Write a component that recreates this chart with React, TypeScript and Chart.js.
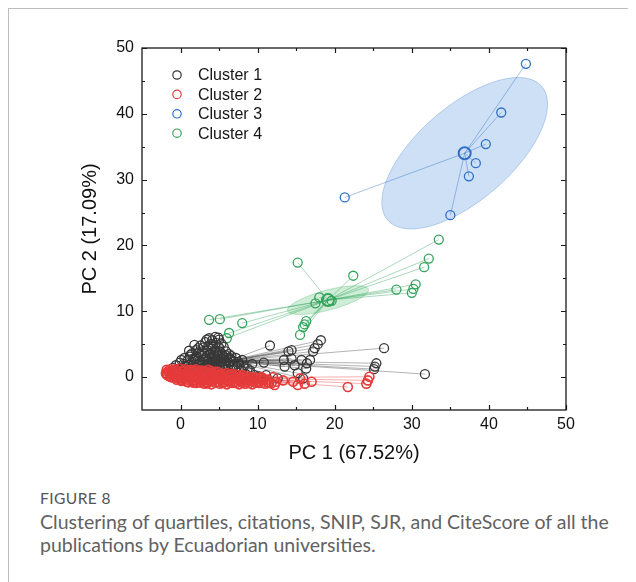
import React, { useEffect, useRef } from "react";
import { Chart, registerables } from "chart.js";

Chart.register(...registerables);

type Pt = [number, number];

// PCA scores per cluster: [PC 1, PC 2]
const cluster1: Pt[] = [
  // dense core
  [3.7, 5.9], [4.5, 6.1], [4.1, 5.6], [5.0, 5.7], [3.4, 5.7], [4.9, 6.0],
  [3.2, 5.3], [3.9, 5.0], [4.6, 5.2], [5.3, 5.1], [2.6, 4.8], [1.8, 4.9], [5.6, 4.6], [4.2, 4.6], [3.0, 4.5],
  [2.3, 4.4], [3.6, 4.7], [5.0, 4.5], [4.0, 4.3],
  [1.1, 4.0], [2.0, 4.1], [2.8, 3.9], [3.5, 4.1], [4.4, 4.0], [5.1, 3.9], [5.9, 3.9], [6.3, 3.5], [1.5, 3.6], [3.9, 3.5], [4.8, 3.4],
  [1.3, 3.4], [2.4, 3.7], [3.1, 3.6], [4.6, 3.7], [5.4, 3.5],
  [0.5, 2.9], [1.2, 3.1], [2.1, 3.2], [2.7, 3.4], [3.3, 3.0], [4.1, 2.9], [4.9, 2.8], [5.6, 3.0], [6.4, 2.9],
  [0.1, 2.6], [1.9, 2.9], [3.0, 2.7], [4.3, 3.2], [5.9, 3.3], [6.6, 3.2], [7.2, 2.9],
  [0.9, 2.5], [1.7, 2.6], [2.5, 2.5], [3.6, 2.6], [4.5, 2.4], [5.3, 2.3], [6.0, 2.5], [6.9, 2.4],
  [-0.1, 2.2], [-0.6, 1.8], [0.4, 2.0], [1.0, 1.9], [1.6, 1.8], [2.3, 2.0], [2.9, 1.9], [3.5, 2.0], [4.1, 1.8],
  [4.8, 1.9], [5.5, 1.7], [6.2, 1.8], [6.8, 1.8], [7.3, 1.6],
  [0.6, 1.7], [2.6, 1.7], [3.9, 2.3], [5.7, 2.0], [7.6, 2.0], [8.2, 1.6], [9.0, 1.0], [8.0, 2.6], [9.3, 2.0],
  [-1.0, 1.4], [0.2, 1.4], [0.8, 1.3], [1.4, 1.2], [2.0, 1.4], [2.7, 1.3], [3.2, 1.4], [3.9, 1.2], [4.5, 1.3],
  [5.1, 1.1], [5.8, 1.2], [6.5, 1.1], [7.9, 1.0], [-0.4, 1.2],
  [-0.8, 0.8], [-0.2, 0.7], [0.5, 0.6], [1.2, 0.7], [1.9, 0.5], [2.6, 0.6], [3.4, 0.7], [4.2, 0.5], [5.0, 0.6],
  [5.7, 0.4], [6.4, 0.6], [7.1, 0.5], [7.8, 0.3], [8.4, 0.5],
  [0.9, 0.1], [2.3, 0.0], [3.7, 0.1], [5.3, -0.1], [6.8, 0.0], [8.9, -0.1], [10.2, 0.1],
  // spread toward higher PC 1
  [11.6, 4.8], [7.5, 2.3], [8.7, 1.3], [9.6, 0.3], [10.8, 2.2], [11.1, 0.3], [13.5, 1.6], [13.4, 2.6],
  [14.0, 3.9], [14.4, 4.1], [14.8, 1.8], [15.2, 0.6], [15.7, 2.6], [16.3, 1.3], [16.8, 2.6], [17.2, 3.9],
  [17.4, 4.4], [17.8, 5.0], [18.2, 5.6], [16.4, 2.1], [14.4, 2.8], [15.9, -0.2], [12.6, -0.2],
  [26.4, 4.4], [25.4, 2.1], [25.2, 1.6], [25.1, 1.2], [31.7, 0.45],
];

const cluster2: Pt[] = [
  [-1.8, 1.1], [-1.3, 1.2], [-0.7, 1.2], [-0.1, 1.3], [0.6, 1.2], [1.3, 1.1], [2.0, 1.2], [2.8, 1.0], [3.6, 1.1],
  [-1.6, 0.9], [-1.0, 1.0], [-0.4, 0.95], [0.3, 1.0], [1.0, 0.9], [1.7, 1.0], [2.4, 0.9], [3.2, 0.85], [4.0, 0.9], [4.8, 0.8],
  [-1.9, 0.6], [-1.5, 0.7], [-1.0, 0.8], [-0.4, 0.7], [0.2, 0.8], [0.9, 0.7], [1.6, 0.8], [2.3, 0.6], [3.0, 0.7],
  [3.8, 0.6], [4.5, 0.7], [5.2, 0.5], [6.0, 0.6], [6.7, 0.5],
  [-1.8, 0.4], [-1.3, 0.5], [-0.7, 0.45], [-0.1, 0.5], [0.5, 0.4], [1.2, 0.5], [1.9, 0.45], [2.6, 0.4], [3.4, 0.45],
  [4.1, 0.5], [4.9, 0.4], [5.6, 0.45], [6.4, 0.4], [7.2, 0.4], [8.0, 0.35],
  [-1.6, 0.2], [-1.1, 0.3], [-0.5, 0.2], [0.1, 0.3], [0.7, 0.1], [1.4, 0.2], [2.0, 0.3], [2.7, 0.1], [3.3, 0.2],
  [4.0, 0.3], [4.7, 0.1], [5.4, 0.2], [6.1, 0.1], [6.9, 0.2], [7.6, 0.1], [8.3, 0.2], [9.1, 0.0],
  [-1.3, 0.0], [-0.6, 0.05], [0.0, 0.0], [0.6, -0.05], [1.2, 0.0], [1.8, 0.05], [2.4, -0.05], [3.1, 0.0], [3.8, 0.05],
  [4.5, -0.05], [5.2, 0.0], [5.9, -0.05], [6.6, 0.0], [7.3, -0.05], [8.0, 0.0], [8.8, 0.05], [9.7, -0.05], [10.5, 0.0],
  [-0.9, -0.1], [-0.3, -0.2], [0.4, -0.3], [1.0, -0.2], [1.7, -0.1], [2.4, -0.3], [3.0, -0.2], [3.7, -0.3],
  [4.4, -0.2], [5.0, -0.3], [5.7, -0.2], [6.4, -0.3], [7.2, -0.2], [7.9, -0.3], [8.7, -0.2], [9.5, -0.3], [10.3, -0.2],
  [-0.5, -0.4], [0.2, -0.45], [0.9, -0.4], [1.6, -0.45], [2.3, -0.4], [3.0, -0.45], [3.7, -0.5], [4.4, -0.4], [5.2, -0.45],
  [6.0, -0.5], [6.7, -0.4], [7.5, -0.45], [8.2, -0.4], [9.0, -0.45], [9.8, -0.4], [10.6, -0.45], [11.3, -0.4],
  [0.1, -0.6], [0.8, -0.7], [1.5, -0.6], [2.2, -0.7], [2.9, -0.6], [3.5, -0.8], [4.2, -0.6], [4.9, -0.7],
  [5.6, -0.8], [6.3, -0.6], [7.0, -0.7], [7.7, -0.6], [8.5, -0.7], [9.2, -0.6], [10.0, -0.7], [10.7, -0.5], [11.4, -0.8],
  [1.0, -0.8], [1.7, -0.85], [2.6, -0.85], [3.5, -0.95], [4.5, -0.85], [5.5, -0.9], [6.4, -0.85], [7.2, -0.9],
  [8.0, -0.85], [8.9, -0.9], [9.7, -0.85], [10.5, -0.9], [11.8, -0.95],
  [2.0, -0.9], [3.1, -1.0], [4.0, -1.1], [5.1, -1.0], [6.0, -1.1], [6.8, -0.9], [7.6, -1.1], [8.4, -1.0],
  [9.3, -1.1], [10.1, -0.9], [11.0, -1.0], [12.2, -1.2],
  [12.4, -0.7], [13.3, -0.5], [14.6, -0.7], [15.2, -1.2], [15.5, -0.2], [16.1, -1.0], [17.0, -0.7],
  [21.7, -1.5], [24.1, -1.0], [24.3, -0.5], [24.5, 0.05], [11.5, -0.9], [10.8, -0.3], [12.0, 0.0],
];

const cluster3: Pt[] = [
  [44.8, 47.6], [41.6, 40.2], [39.6, 35.4], [38.3, 32.5], [37.4, 30.5], [35.0, 24.6], [21.3, 27.3],
];

const cluster4: Pt[] = [
  [3.7, 8.7], [5.1, 8.8], [6.3, 6.7], [6.0, 5.9], [8.0, 8.2],
  [15.2, 17.4], [15.5, 6.4], [15.9, 7.6], [16.1, 8.0], [16.3, 8.5],
  [17.5, 11.2], [18.0, 12.1], [19.6, 11.6], [22.4, 15.4],
  [28.0, 13.3], [30.0, 12.8], [30.2, 13.4], [30.5, 14.1], [31.6, 16.7], [32.2, 18.0], [33.5, 20.9],
];

const clusterNames = ["Cluster 1", "Cluster 2", "Cluster 3", "Cluster 4"];
const clusterData = [cluster1, cluster2, cluster3, cluster4];
const clusterColors = ["#383838", "#e53b3b", "#2f6fc6", "#35a35c"];
const clusterRgb = ["56,56,56", "229,59,59", "47,111,198", "53,163,92"];
// stacking of the point layers: lower value is painted later (on top)
const clusterDrawOrder = [1, 0, 2, 3];

// Confidence ellipses (PC units): semi-axes and rotation, centred on the cluster mean
const ellipseCluster = [2, 3];
const ellipseSemiMajor = [14.3, 5.5];
const ellipseSemiMinor = [6.6, 1.5];
const ellipseAngleDeg = [48, 17.6];

const xMajorTicks = [0, 10, 20, 30, 40, 50];
const xMinorTicks = [5, 15, 25, 35, 45];
const yMajorTicks = [0, 10, 20, 30, 40, 50];
const yMinorTicks = [5, 15, 25, 35, 45];

const FONT = "'Liberation Sans', Arial, Helvetica, sans-serif";

function centroid(pts: Pt[]): Pt {
  let sx = 0, sy = 0;
  pts.forEach(([a, b]) => { sx += a; sy += b; });
  return [sx / pts.length, sy / pts.length];
}

const clusterPlugin = {
  id: "clusterDecor",
  beforeDatasetsDraw(chart: any) {
    const { ctx, chartArea: ca } = chart;
    const xs = chart.scales.x, ys = chart.scales.y;
    ctx.save();
    ctx.beginPath();
    ctx.rect(ca.left, ca.top, ca.right - ca.left, ca.bottom - ca.top);
    ctx.clip();

    // ellipses
    ellipseCluster.forEach((ci, k) => {
      const [cx, cy] = centroid(clusterData[ci]);
      const a = ellipseSemiMajor[k], b = ellipseSemiMinor[k];
      const th = (ellipseAngleDeg[k] * Math.PI) / 180;
      ctx.beginPath();
      for (let i = 0; i <= 120; i++) {
        const t = (i / 120) * Math.PI * 2;
        const dx = a * Math.cos(t) * Math.cos(th) - b * Math.sin(t) * Math.sin(th);
        const dy = a * Math.cos(t) * Math.sin(th) + b * Math.sin(t) * Math.cos(th);
        const px = xs.getPixelForValue(cx + dx);
        const py = ys.getPixelForValue(cy + dy);
        if (i === 0) ctx.moveTo(px, py); else ctx.lineTo(px, py);
      }
      ctx.closePath();
      ctx.fillStyle = ci === 2 ? "rgba(135,180,232,0.42)" : "rgba(125,208,150,0.38)";
      ctx.fill();
      ctx.strokeStyle = `rgba(${clusterRgb[ci]},0.35)`;
      ctx.lineWidth = 0.8;
      ctx.stroke();
    });

    // lines from each cluster mean to its members
    clusterData.forEach((pts, ci) => {
      const [cx, cy] = centroid(pts);
      const px0 = xs.getPixelForValue(cx), py0 = ys.getPixelForValue(cy);
      ctx.strokeStyle = `rgba(${clusterRgb[ci]},${ci === 0 ? 0.55 : 0.6})`;
      ctx.lineWidth = 0.7;
      pts.forEach(([a, b]) => {
        ctx.beginPath();
        ctx.moveTo(px0, py0);
        ctx.lineTo(xs.getPixelForValue(a), ys.getPixelForValue(b));
        ctx.stroke();
      });
    });
    ctx.restore();
  },
  afterDatasetsDraw(chart: any) {
    const { ctx, chartArea: ca } = chart;
    const xs = chart.scales.x, ys = chart.scales.y;
    ctx.save();

    // cluster mean markers
    clusterData.forEach((pts, ci) => {
      const [cx, cy] = centroid(pts);
      ctx.beginPath();
      ctx.arc(xs.getPixelForValue(cx), ys.getPixelForValue(cy), 6, 0, Math.PI * 2);
      ctx.strokeStyle = clusterColors[ci];
      ctx.lineWidth = 2;
      ctx.stroke();
    });

    // frame
    ctx.strokeStyle = "#1a1a1a";
    ctx.lineWidth = 1.3;
    ctx.strokeRect(ca.left, ca.top, ca.right - ca.left, ca.bottom - ca.top);

    // inward ticks on all four sides
    ctx.lineWidth = 1.2;
    const drawX = (v: number, len: number) => {
      const px = Math.round(xs.getPixelForValue(v)) + 0.5;
      ctx.beginPath();
      ctx.moveTo(px, ca.bottom); ctx.lineTo(px, ca.bottom - len);
      ctx.moveTo(px, ca.top); ctx.lineTo(px, ca.top + len);
      ctx.stroke();
    };
    const drawY = (v: number, len: number) => {
      const py = Math.round(ys.getPixelForValue(v)) + 0.5;
      ctx.beginPath();
      ctx.moveTo(ca.left, py); ctx.lineTo(ca.left + len, py);
      ctx.moveTo(ca.right, py); ctx.lineTo(ca.right - len, py);
      ctx.stroke();
    };
    xMajorTicks.forEach((v) => drawX(v, 5));
    xMinorTicks.forEach((v) => drawX(v, 3));
    yMajorTicks.forEach((v) => drawY(v, 5));
    yMinorTicks.forEach((v) => drawY(v, 3));

    // legend
    ctx.font = `16px ${FONT}`;
    ctx.textBaseline = "middle";
    ctx.textAlign = "left";
    clusterNames.forEach((name, i) => {
      const yy = ca.top + 27 + i * 19.4;
      ctx.beginPath();
      ctx.arc(ca.left + 35, yy, 4.2, 0, Math.PI * 2);
      ctx.strokeStyle = clusterColors[i];
      ctx.lineWidth = 1.2;
      ctx.stroke();
      ctx.fillStyle = "#151515";
      ctx.fillText(name, ca.left + 56, yy + 1);
    });
    ctx.restore();
  },
};

export default function App() {
  const canvasRef = useRef<HTMLCanvasElement | null>(null);

  useEffect(() => {
    if (!canvasRef.current) return;
    const chart = new Chart(canvasRef.current, {
      type: "scatter",
      data: {
        datasets: clusterData.map((pts, i) => ({
          label: clusterNames[i],
          data: pts.map(([a, b]) => ({ x: a, y: b })),
          order: clusterDrawOrder[i],
          pointStyle: "circle",
          pointRadius: 4.5,
          pointHoverRadius: 4.5,
          pointBorderWidth: i === 1 ? 1.6 : 1.3,
          borderColor: clusterColors[i],
          backgroundColor: "rgba(0,0,0,0)",
        })),
      },
      options: {
        responsive: false,
        animation: false,
        events: [],
        layout: { padding: { left: 0, top: 39, right: 63, bottom: 0 } },
        plugins: { legend: { display: false }, tooltip: { enabled: false } },
        scales: {
          x: {
            type: "linear",
            min: -5,
            max: 50,
            afterBuildTicks: (s: any) => { s.ticks = xMajorTicks.map((v) => ({ value: v })); },
            afterFit: (s: any) => { s.height = 69; },
            grid: { display: false, drawTicks: false },
            border: { display: false },
            ticks: { font: { family: FONT, size: 16 }, color: "#111", padding: 5, maxRotation: 0 },
            title: {
              display: true,
              text: "PC 1 (67.52%)",
              font: { family: FONT, size: 20 },
              color: "#111",
              padding: { top: 0, bottom: 14 },
            },
          },
          y: {
            type: "linear",
            min: -5,
            max: 50,
            afterBuildTicks: (s: any) => { s.ticks = yMajorTicks.map((v) => ({ value: v })); },
            afterFit: (s: any) => { s.width = 133; },
            grid: { display: false, drawTicks: false },
            border: { display: false },
            ticks: { font: { family: FONT, size: 16 }, color: "#111", padding: 8 },
            title: {
              display: true,
              text: "PC 2 (17.09%)",
              font: { family: FONT, size: 20 },
              color: "#111",
              padding: { top: 69, bottom: 0 },
            },
          },
        },
      },
      plugins: [clusterPlugin],
    } as any);
    return () => chart.destroy();
  }, []);

  return (
    <div
      style={{
        position: "relative",
        width: 628,
        height: 574,
        borderTop: "1px solid #bdbdbd",
        borderLeft: "1px solid #bdbdbd",
        fontFamily: "Lato, 'Noto Sans', sans-serif",
      }}
    >
      <style>{"html,body{overflow:hidden}"}</style>
      <canvas ref={canvasRef} width={620} height={470} style={{ display: "block" }} />
      <div
        style={{
          position: "absolute",
          left: 31,
          top: 480,
          fontSize: 15.6,
          lineHeight: "18px",
          color: "#555",
          letterSpacing: 0.4,
        }}
      >
        FIGURE 8
      </div>
      <div
        style={{
          position: "absolute",
          left: 31,
          top: 501,
          width: 592,
          fontSize: 19.5,
          lineHeight: "23px",
          color: "#626262",
        }}
      >
        Clustering of quartiles, citations, SNIP, SJR, and CiteScore of all the publications by Ecuadorian universities.
      </div>
    </div>
  );
}
